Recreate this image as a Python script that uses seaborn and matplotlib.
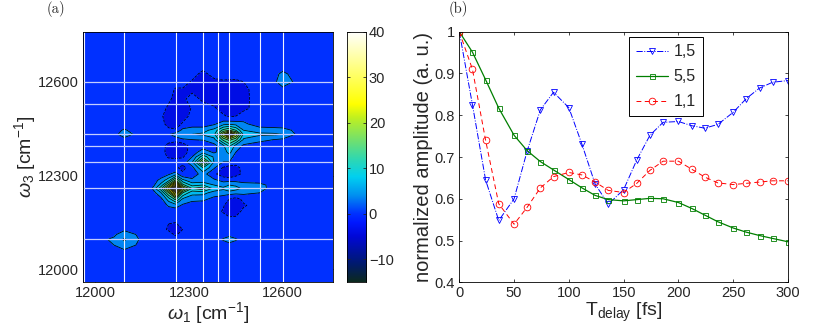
import numpy as np
import pandas as pd
import matplotlib
matplotlib.use('Agg')
import matplotlib.pyplot as plt
from matplotlib.colors import LinearSegmentedColormap
import seaborn as sns

sns.set_style("ticks", {"xtick.direction": "in", "ytick.direction": "in",
                        "xtick.top": True, "ytick.right": True})
plt.rcParams['font.family'] = ['Liberation Sans', 'DejaVu Sans']
plt.rcParams['mathtext.fontset'] = 'custom'
plt.rcParams['mathtext.rm'] = 'Liberation Sans'
plt.rcParams['mathtext.it'] = 'Liberation Sans:italic'
plt.rcParams['mathtext.fallback'] = 'cm'

# 2D map on a hand-picked grid
omega1 = [11960, 12060, 12093, 12130, 12180, 12210, 12235, 12257, 12280, 12310, 12345,
          12380, 12410, 12429, 12450, 12475, 12526, 12570, 12600, 12640, 12760]
omega3 = [12760, 12650, 12625, 12600, 12575, 12545, 12515, 12490, 12465, 12445, 12432,
          12415, 12396, 12375, 12360, 12344, 12325, 12305, 12285, 12270, 12259, 12245,
          12225, 12205, 12185, 12165, 12146, 12128, 12112, 12096, 12078, 12060, 12040, 11960]
amplitude = [
    [0, 0, 0, 0, 0, 0, 0, 0, 0, 0, 0, 0, 0, 0, 0, 0, 0, 0, 0, 0, 0],
    [0, 0, 0, 0, 0, 0, 0, 0, 0, 0, 0, 0, 0, 0, 0, 0, 0, 0, 0, 0, 0],
    [0, 0, 0, 0, 0, 0, 0, 0, 0, 0, -3.5, 0, 0, 0, 0, 0, 0, 0.5, 3, 0.5, 0],
    [0, 0, 0, 0, 0, 0, 0, 0, 0, -2.5, -5, -3.5, -2.5, -2.8, -2.8, -2, 0, 1, 4, 1.5, 0],
    [0, 0, 0, 0, 0, 0, 0, -2.5, -2.5, -3.2, -5.5, -4.5, -4.5, -5, -5, -3, 0, 0, 1, 0, 0],
    [0, 0, 0, 0, 0, 0, -1, -3.5, -3, 0, -3, -3.5, -4.5, -5, -5, -3.2, 0, 0, 0, 0, 0],
    [0, 0, 0, 0, 0, 0, -3, -5, -5, -1.5, 0, -1.5, -3.5, -4.5, -4.5, -3, 0, 0, 0, 0, 0],
    [0, 0, 0, 0, 0, -1.5, -3.5, -5.5, -3.5, -1, 0, 0, -1.5, -2.5, -2, 0, 0, 0, 0, 0, 0],
    [0, 0, 0, 0, 0, -0.5, -3.5, -4, -1.5, 0, 0, 1.5, 4, 4.5, 4, 2.8, 0, 0, 0, 0, 0],
    [0, 0.5, 2.5, 0.5, 0, 0, -1, -1.5, 3.2, 4, 4, 6, 12, 14, 11, 5, 4, 3.5, 3.2, 1.5, 0],
    [0, 1, 3.5, 1.5, 0, 0, 1.5, 4, 5, 5, 5.5, 7, 20, 33, 20, 7, 5.5, 5.5, 5, 2, 0],
    [0, 0, 1, 0, 0, 0, 0, 0, 1.5, 2, 2.2, 4, 12, 15, 12, 4.5, 3.2, 2, 1.5, 0.5, 0],
    [0, 0, 0, 0, 0, 0, -3.5, -5.5, -4.5, 0, 0, 1, 4.5, 9, 4, 1.5, 0, 0, 0, 0, 0],
    [0, 0, 0, 0, 0, 0, -3.8, -5.5, -4, 0, 4, 1.5, 3.5, 6, 2, 0, 0, 0, 0, 0, 0],
    [0, 0, 0, 0, 0, 0, -2.6, -3, -2.5, 2, 10, 4.5, 3.2, 3.8, 0.5, 0, 0, 0, 0, 0, 0],
    [0, 0, 0, 0, 0, 0, 0, 0, 0, 4.5, 18, 5, 2, 2, 0, 0, 0, 0, 0, 0, 0],
    [0, 0, 0, 0, 0, 0, 0, -1, -3.5, 1, 8, 2.5, -2.5, -4, -3.5, -0.5, 0, 0, 0, 0, 0],
    [0, 0, 0, 0, 0, 0, 1.5, 3.5, -1, 0, 3.5, -1, -4.5, -6, -3.5, -1, 0, 0, 0, 0, 0],
    [0, 0, 0, 0, 0, 3, 7, 15, 6, 2.8, 2.8, 2.8, 1, 1, 1, 0, 0, 0, 0, 0, 0],
    [0, 0, 0, 0, 0, 6, 15, 28, 12, 7, 8, 5, 4, 5, 4.5, 4, 3.3, 0.5, 0, 0, 0],
    [0, 0, 0, 0, 1.5, 10, 22, 40, 20, 11, 13, 7, 5.5, 7.5, 6, 4.5, 4, 0, 0, 0, 0],
    [0, 0, 0, 0, 0, 4.5, 14, 26, 11, 6, 6, 3.8, 3.5, 3.5, 3.2, 3, 2, 0, 0, 0, 0],
    [0, 0, 0, 0, 0, 1, 6.5, 12, 4.5, 3.2, 2.8, 1, 0, -2, -3.5, -1, 0, 0, 0, 0, 0],
    [0, 0, 0, 0, 0, 0, 2.5, 3.5, 1.5, 0, 0, 0, -1.5, -4.5, -5, -2.5, 0, 0, 0, 0, 0],
    [0, 0, 0, 0, 0, 0, 0, 0, 0, 0, 0, 0, -2.5, -4.5, -3.5, -1, 0, 0, 0, 0, 0],
    [0, 0, 0, 0, 0, 0, 0, 0, 0, 0, 0, 0, 0, -1.5, -1.5, 0, 0, 0, 0, 0, 0],
    [0, 0, 0, 0, 0, 0, -2, -2.5, 0, 0, 0, 0, 0, 0, 0, 0, 0, 0, 0, 0, 0],
    [0, 0, 1.5, 0.5, 0, 0, -2.8, -5, -2, 0, 0, 0, 0, 0, 0, 0, 0, 0, 0, 0, 0],
    [0, 1.5, 3.5, 2, 0, 0, 0, -2.8, 0, 0, 0, 0, 0, 1, 0, 0, 0, 0, 0, 0, 0],
    [0, 2.5, 5.5, 2.5, 0, 0, 0, 0, 0, 0, 0, 0, 2.5, 3.5, 2.5, 0, 0, 0, 0, 0, 0],
    [0, 2, 4, 2, 0, 0, 0, 0, 0, 0, 0, 0, 0, 1, 0, 0, 0, 0, 0, 0, 0],
    [0, 0, 1.5, 0.5, 0, 0, 0, 0, 0, 0, 0, 0, 0, 0, 0, 0, 0, 0, 0, 0, 0],
    [0, 0, 0, 0, 0, 0, 0, 0, 0, 0, 0, 0, 0, 0, 0, 0, 0, 0, 0, 0, 0],
    [0, 0, 0, 0, 0, 0, 0, 0, 0, 0, 0, 0, 0, 0, 0, 0, 0, 0, 0, 0, 0],
]
vlines = [11965, 12093, 12257, 12345, 12394, 12429, 12526, 12600]
hlines = [12096, 12259, 12344, 12396, 12432, 12528, 12600]

# decay traces
t_delay = [0, 12, 24, 36, 50, 62, 74, 86, 100, 112, 124, 136, 150, 162, 174, 186, 200,
           212, 224, 236, 250, 262, 274, 286, 300]
trace_15 = [1, .825, .645, .548, .6, .715, .813, .855, .818, .73, .635, .587, .622, .693,
            .752, .783, .785, .775, .769, .778, .807, .84, .865, .879, .883]
trace_55 = [1, .951, .885, .817, .752, .715, .689, .669, .646, .626, .608, .598, .595, .598,
            .601, .6, .591, .577, .561, .545, .53, .52, .512, .505, .497]
trace_11 = [1, .91, .74, .588, .539, .58, .626, .653, .663, .657, .64, .62, .615, .637,
            .668, .69, .69, .671, .652, .638, .634, .637, .64, .643, .643]

W, H = 830, 329
fig = plt.figure(figsize=(W / 100, H / 100), dpi=100)


def px_axes(x0, y0, x1, y1):
    return fig.add_axes([x0 / W, 1 - y1 / H, (x1 - x0) / W, (y1 - y0) / H])


# left panel
vmin, vmax = -15, 40
stops = [(-15, '#0c2a20'), (-11, '#001a70'), (-5, '#0008d8'), (-2, '#0018ff'), (0, '#0032ff'),
         (4, '#0090f0'), (8, '#00d0f0'), (12, '#30d8b0'), (16, '#70e070'), (21, '#c0f020'),
         (24, '#ffff00'), (32, '#ffff80'), (40, '#ffffff')]
cmap = LinearSegmentedColormap.from_list(
    'spec', [((v - vmin) / (vmax - vmin), c) for v, c in stops])
levels = [-15, -12, -9, -6, -2, 2, 5, 8, 11, 14, 17, 20, 23, 26, 29, 32, 35, 38, 40]

ax = px_axes(82.7, 31.7, 332.7, 282)
cf = ax.contourf(omega1, omega3, amplitude, levels=levels, cmap=cmap, vmin=vmin, vmax=vmax)
ax.contour(omega1, omega3, amplitude, levels=levels, colors='k', linewidths=0.55)
for v in vlines:
    ax.axvline(v, color='#f0f2ff', lw=0.8)
for h in hlines:
    ax.axhline(h, color='#c4ceff', lw=0.9)
ax.set_xlim(11960, 12760)
ax.set_ylim(11960, 12760)
ax.set_xticks([12000, 12300, 12600])
ax.set_yticks([12000, 12300, 12600])
ax.tick_params(labelsize=10.5, length=2.5, width=0.6, pad=3)
ax.set_xlabel(r'$\omega_1$ [cm$^{-1}$]', fontsize=14, labelpad=0)
ax.set_ylabel(r'$\omega_3$ [cm$^{-1}$]', fontsize=14, labelpad=0)
fig.text(47 / W, 1 - 9 / H, '(a)', family='cmr10', fontsize=10.5, va='center')

cax = px_axes(346.7, 31.7, 366, 282)
grad = np.linspace(vmin, vmax, 256).reshape(-1, 1)
cax.imshow(grad, origin='lower', aspect='auto', cmap=cmap, extent=[0, 1, vmin, vmax])
cax.set_xticks([])
cax.yaxis.tick_right()
cax.set_yticks([-10, 0, 10, 20, 30, 40])
cax.set_yticklabels(['\u221210', '0', '10', '20', '30', '40'])
cax.tick_params(axis='y', labelsize=10.5, length=2.5, width=0.6, pad=2, left=True, right=True)

# right panel
df = pd.DataFrame({'T': t_delay, '1,5': trace_15, '5,5': trace_55, '1,1': trace_11})
ax2 = px_axes(459.3, 31.7, 788, 282.3)
sns.lineplot(data=df, x='T', y='1,5', ax=ax2, color='#0000ff', ls='-.', lw=0.7, marker='v',
             ms=5, mfc='none', mec='#0000ff', mew=0.6, label='1,5')
sns.lineplot(data=df, x='T', y='5,5', ax=ax2, color='#007f00', ls='-', lw=0.9, marker='s',
             ms=3.6, mfc='none', mec='#007f00', mew=0.6, label='5,5')
sns.lineplot(data=df, x='T', y='1,1', ax=ax2, color='#ff0000', ls=(0, (5, 3.5)), lw=0.7, marker='o',
             ms=4.8, mfc='none', mec='#ff0000', mew=0.6, label='1,1')
ax2.set_xlim(0, 300)
ax2.set_ylim(0.4, 1)
ax2.set_xticks(range(0, 301, 50))
ax2.set_yticks([0.4, 0.5, 0.6, 0.7, 0.8, 0.9, 1])
ax2.set_yticklabels(['0.4', '0.5', '0.6', '0.7', '0.8', '0.9', '1'])
ax2.tick_params(labelsize=10.5, length=2.5, width=0.6, pad=3)
ax2.set_xlabel(r'T$_{\mathrm{delay}}$ [fs]', fontsize=14, labelpad=0)
ax2.set_ylabel('normalized amplitude (a. u.)', fontsize=14.5, labelpad=1)
leg = ax2.legend(loc='upper left', bbox_to_anchor=(169.7 / 328.7, 1 - 5.6 / 250.6), borderaxespad=0,
                 fontsize=11.5, fancybox=False, framealpha=1, edgecolor='k', labelspacing=0.62,
                 handlelength=2.0, handletextpad=0.35, borderpad=0.45)
leg.get_frame().set_linewidth(0.7)
fig.text(449 / W, 1 - 9 / H, '(b)', family='cmr10', fontsize=10.5, va='center')

for a in (ax, cax, ax2):
    for s in a.spines.values():
        s.set_visible(True)
        s.set_linewidth(0.6)
        s.set_color('k')

fig.savefig('out.png', dpi=100)
